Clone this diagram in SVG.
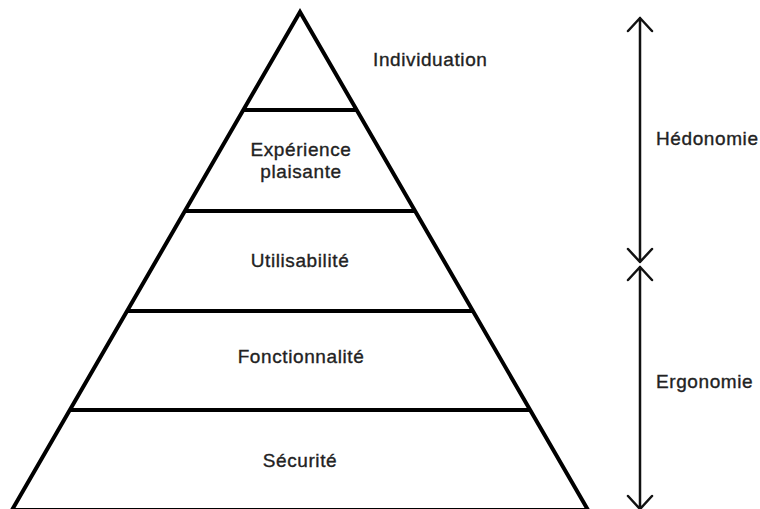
<svg xmlns="http://www.w3.org/2000/svg" width="760" height="509" viewBox="0 0 760 509">
<style>
.lbl{font-family:"Liberation Sans","DejaVu Sans",Arial,sans-serif;font-size:19px;fill:#222;stroke:#222;stroke-width:0.35px;letter-spacing:0.6px}
.mid{text-anchor:middle}
.edge{stroke:#000;stroke-width:4;fill:none;stroke-linejoin:miter}
.arr{stroke:#111;stroke-width:2.5;fill:none;stroke-linecap:round;stroke-linejoin:round}
</style>
<rect width="760" height="509" fill="#fff"/>
<g id="pyramid">
<path class="edge" d="M12,510 L300,12 L588,510 Z"/>
</g>
<g id="connectors">
<line class="edge" x1="243.5" y1="110" x2="356.5" y2="110"/>
<line class="edge" x1="185" y1="211" x2="415" y2="211"/>
<line class="edge" x1="127" y1="311" x2="473" y2="311"/>
<line class="edge" x1="70" y1="410" x2="530" y2="410"/>
<path class="arr" d="M640,18 L640,262 M628,31 L640,18 L652,31 M628,249 L640,262 L652,249"/>
<path class="arr" d="M640,267 L640,509 M628,280 L640,267 L652,280 M628,496 L640,509 L652,496"/>
</g>
<g id="n-individuation"><text class="lbl" x="373" y="66">Individuation</text></g>
<g id="n-experience"><text class="lbl mid" x="301" y="156">Expérience</text><text class="lbl mid" x="301" y="178">plaisante</text></g>
<g id="n-utilisabilite"><text class="lbl mid" x="300" y="267">Utilisabilité</text></g>
<g id="n-fonctionnalite"><text class="lbl mid" x="301" y="363">Fonctionnalité</text></g>
<g id="n-securite"><text class="lbl mid" x="300" y="467">Sécurité</text></g>
<g id="n-hedonomie"><text class="lbl" x="656" y="145">Hédonomie</text></g>
<g id="n-ergonomie"><text class="lbl" x="656" y="388">Ergonomie</text></g>
</svg>
